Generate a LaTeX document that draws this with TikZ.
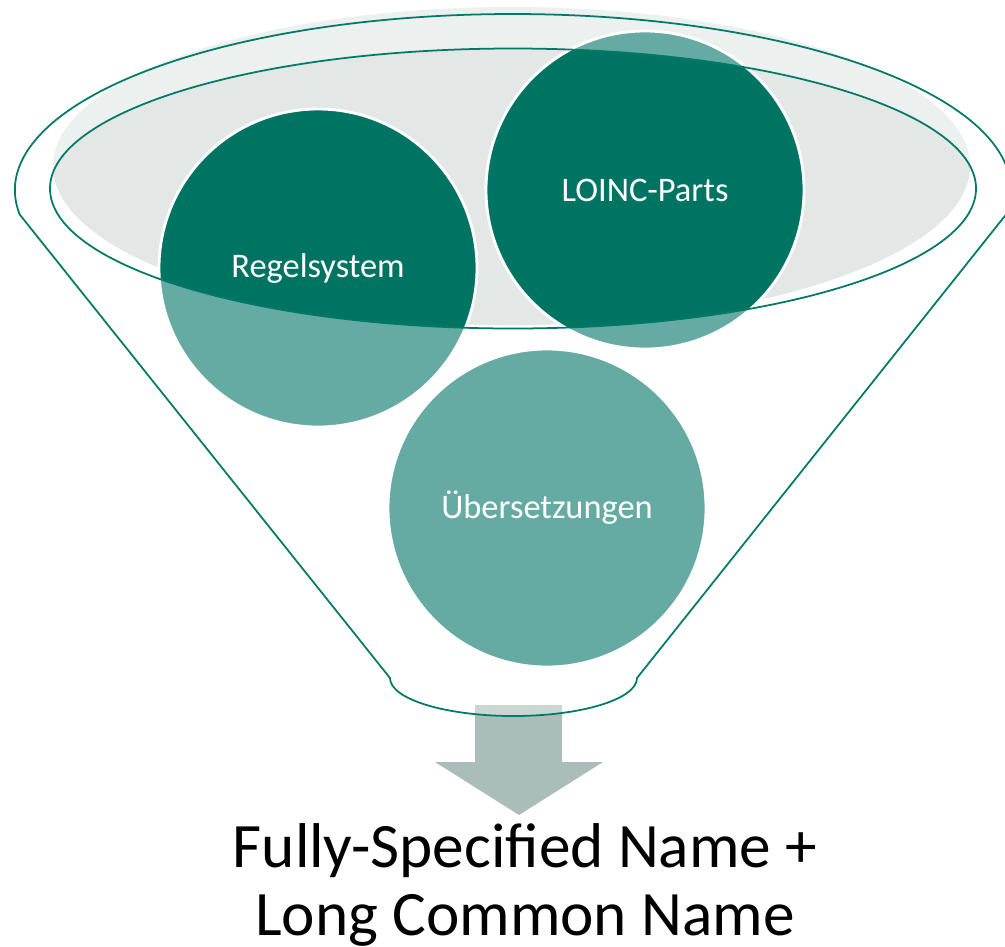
\documentclass[tikz,border=0pt]{standalone}
\usepackage{fontspec}
\setmainfont{Carlito}
\definecolor{tealdark}{RGB}{0,116,99}
\definecolor{teallight}{RGB}{102,171,163}
\definecolor{rimlight}{RGB}{236,240,239}
\definecolor{rimdark}{RGB}{227,231,229}
\definecolor{arrowgray}{RGB}{170,189,184}
\definecolor{arrowlight}{RGB}{203,214,211}
\definecolor{funnelline}{RGB}{0,122,104}
\def\funnelpath{(10.06,-2.145) arc[start angle=-8, end angle=188, x radius=4.98, y radius=1.76] -- (3.90,-6.78) arc[start angle=180, end angle=360, x radius=1.235, y radius=0.38] -- cycle}
\tikzset{
  outline/.style={draw=funnelline, line width=0.5pt},
  circlelabel/.style={text=white, font=\fontsize{9.8}{11}\selectfont},
  bigtext/.style={anchor=base, font=\fontsize{18}{20}\selectfont}
}

\begin{document}
\begin{tikzpicture}
			%%%%% START %%%%%
			\useasboundingbox (0,0) rectangle (10.05,-9.46);
			
			\fill[rimlight] (5.115,-1.66) ellipse (4.585 and 1.59);
			\begin{scope}
				\clip (5.115,-1.66) ellipse (4.585 and 1.59);
				\fill[rimdark] (5.13,-1.885) ellipse (4.63 and 1.40);
			\end{scope}
			
			\fill[teallight] (3.18,-2.68) circle (1.59);
			\fill[teallight] (6.45,-1.90) circle (1.59);
			\fill[teallight] (5.47,-5.08) circle (1.59);
			\begin{scope}
				\clip (5.13,-1.885) ellipse (4.63 and 1.40);
				\fill[tealdark] (3.18,-2.68) circle (1.59);
				\fill[tealdark] (6.45,-1.90) circle (1.59);
				\fill[tealdark] (5.47,-5.08) circle (1.59);
			\end{scope}
			\draw[white, line width=0.8pt] (3.18,-2.68) circle (1.59);
			\draw[white, line width=0.8pt] (6.45,-1.90) circle (1.59);
			\draw[white, line width=0.8pt] (5.47,-5.08) circle (1.59);
			
			\fill[arrowgray] (4.75,-7.05) -- (5.62,-7.05) -- (5.62,-7.62) -- (6.03,-7.62)
				-- (5.19,-8.15) -- (4.35,-7.62) -- (4.75,-7.62) -- cycle;
			\begin{scope}
				\clip \funnelpath;
				\fill[arrowlight] (4.75,-7.05) rectangle (5.62,-7.30);
			\end{scope}
			
			\draw[outline] (5.13,-1.885) ellipse (4.63 and 1.40);
			\draw[outline] \funnelpath;
			
			\node[circlelabel] (regel) at (3.18,-2.68) {Regelsystem};
			\node[circlelabel] (loinc) at (6.45,-1.90) {LOINC-Parts};
			\node[circlelabel] (uebers) at (5.47,-5.08) {Übersetzungen};
			
			\node[bigtext] (fsn) at (5.25,-8.67) {Fully-Specified Name +};
			\node[bigtext] (lcn) at (5.25,-9.35) {Long Common Name};
			
			%%%%% END %%%%%
		\end{tikzpicture}
\end{document}
